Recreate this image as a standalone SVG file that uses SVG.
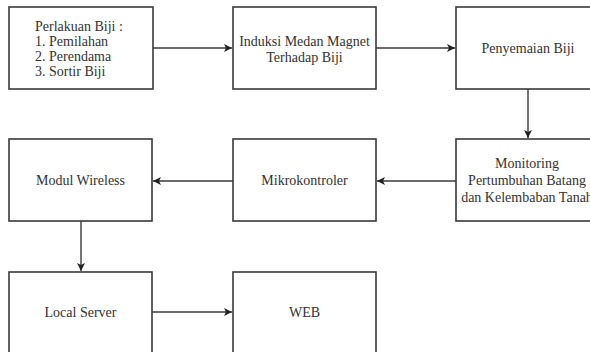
<svg xmlns="http://www.w3.org/2000/svg" width="590" height="352" viewBox="0 0 590 352">
<style>
.box{fill:#fff;stroke:#3a3a3a;stroke-width:1.6}
.t{font-family:"Liberation Serif","Times New Roman",serif;font-size:14px;fill:#333}
.c{text-anchor:middle}
.edge{fill:none;stroke:#3a3a3a;stroke-width:1.4;marker-end:url(#ah)}
</style>
<defs>
<marker id="ah" viewBox="0 0 10 10" refX="10" refY="5" markerWidth="8" markerHeight="8" markerUnits="userSpaceOnUse" orient="auto">
<path d="M0,0 L10,5 L0,10 L2.5,5 Z" fill="#222"/>
</marker>
</defs>
<rect width="590" height="352" fill="#fff"/>
<g id="connectors">
<path class="edge" d="M153,48 H232"/>
<path class="edge" d="M376,48 H455"/>
<path class="edge" d="M528,89 V138"/>
<path class="edge" d="M456,181 H377"/>
<path class="edge" d="M233,181 H153"/>
<path class="edge" d="M81,221 V271"/>
<path class="edge" d="M152,312 H232"/>
</g>
<g id="perlakuan">
<rect class="box" x="9" y="7" width="144" height="82"/>
<text class="t" x="35" y="31">Perlakuan Biji :</text>
<text class="t" x="35" y="46">1. Pemilahan</text>
<text class="t" x="35" y="61">2. Perendama</text>
<text class="t" x="35" y="76">3. Sortir Biji</text>
</g>
<g id="induksi">
<rect class="box" x="233" y="7" width="143" height="82"/>
<text class="t c" x="304.5" y="46">Induksi Medan Magnet</text>
<text class="t c" x="304.5" y="62">Terhadap Biji</text>
</g>
<g id="penyemaian">
<rect class="box" x="456" y="7" width="143" height="82"/>
<text class="t c" x="528" y="53">Penyemaian Biji</text>
</g>
<g id="monitoring">
<rect class="box" x="456" y="139" width="143" height="82"/>
<text class="t c" x="527" y="168">Monitoring</text>
<text class="t c" x="527" y="185">Pertumbuhan Batang</text>
<text class="t c" x="527" y="202">dan Kelembaban Tanah</text>
</g>
<g id="mikrokontroler">
<rect class="box" x="233" y="139" width="143" height="82"/>
<text class="t c" x="304.5" y="185">Mikrokontroler</text>
</g>
<g id="modul">
<rect class="box" x="9" y="139" width="143" height="82"/>
<text class="t c" x="80.5" y="185">Modul Wireless</text>
</g>
<g id="localserver">
<rect class="box" x="9" y="272" width="143" height="90"/>
<text class="t c" x="80.5" y="317">Local Server</text>
</g>
<g id="web">
<rect class="box" x="233" y="272" width="143" height="90"/>
<text class="t c" x="304.5" y="317">WEB</text>
</g>
</svg>
